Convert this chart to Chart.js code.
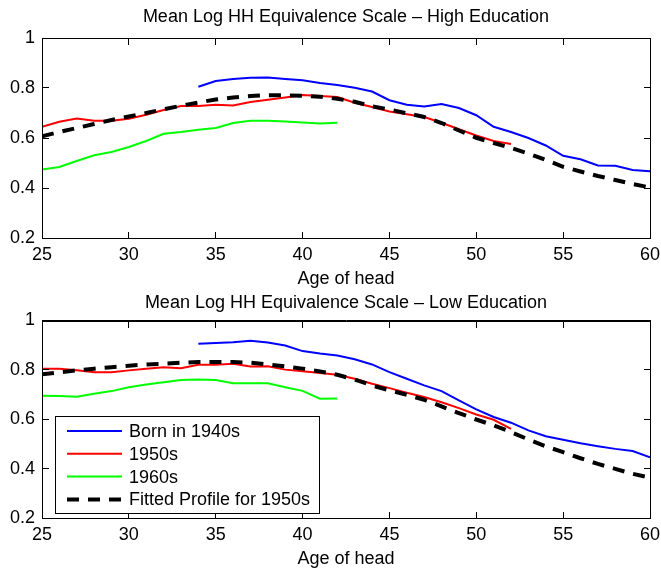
<!DOCTYPE html>
<html>
<head>
<meta charset="utf-8">
<script src="https://cdn.jsdelivr.net/npm/chart.js@4"></script>
<style>
  body { margin: 0; background: #fff; }
  #wrap { position: relative; width: 661px; height: 570px; }
  canvas { position: absolute; left: 0; }
</style>
</head>
<body>
<div id="wrap">
  <canvas id="highChart" width="661" height="290" style="top:0"></canvas>
  <canvas id="lowChart" width="661" height="285" style="top:285px"></canvas>
</div>
<script>
const ages = [25, 26, 27, 28, 29, 30, 31, 32, 33, 34, 35, 36, 37, 38, 39, 40, 41, 42,
              43, 44, 45, 46, 47, 48, 49, 50, 51, 52, 53, 54, 55, 56, 57, 58, 59, 60];
const xTicks = [25, 30, 35, 40, 45, 50, 55, 60];
const yTicks = [0.2, 0.4, 0.6, 0.8, 1];
const seriesNames = ['Born in 1940s', '1950s', '1960s', 'Fitted Profile for 1950s'];

// High education (1940s from age 34, 1950s to 52, 1960s to 42)
const highBorn40s = [0.805, 0.828, 0.836, 0.841, 0.842, 0.836, 0.831, 0.820, 0.812, 0.801, 0.786, 0.751, 0.733, 0.726,
                     0.736, 0.720, 0.691, 0.645, 0.624, 0.600, 0.570, 0.529, 0.515, 0.490, 0.489, 0.472, 0.467];
const highBorn50s = [0.645, 0.665, 0.678, 0.669, 0.669, 0.677, 0.693, 0.712, 0.728, 0.728, 0.733, 0.730, 0.744, 0.753,
                     0.762, 0.772, 0.768, 0.764, 0.741, 0.724, 0.706, 0.695, 0.684, 0.661, 0.635, 0.610, 0.588, 0.576];
const highBorn60s = [0.474, 0.484, 0.508, 0.531, 0.544, 0.564, 0.588, 0.617, 0.624, 0.633, 0.640, 0.660, 0.669, 0.669,
                     0.666, 0.662, 0.658, 0.661];
const highFitted = [0.607, 0.624, 0.640, 0.656, 0.672, 0.686, 0.700, 0.715, 0.729, 0.742, 0.754, 0.762, 0.768, 0.771,
                    0.771, 0.769, 0.765, 0.757, 0.745, 0.727, 0.714, 0.699, 0.684, 0.660, 0.630, 0.601, 0.580, 0.560,
                    0.538, 0.512, 0.485, 0.466, 0.448, 0.432, 0.416, 0.402];

// Low education
const lowBorn40s = [0.906, 0.909, 0.912, 0.918, 0.911, 0.899, 0.876, 0.866, 0.858, 0.843, 0.822, 0.791, 0.764, 0.737,
                    0.714, 0.676, 0.640, 0.609, 0.586, 0.555, 0.531, 0.517, 0.503, 0.491, 0.480, 0.471, 0.446];
const lowBorn50s = [0.805, 0.805, 0.798, 0.790, 0.790, 0.798, 0.805, 0.811, 0.807, 0.821, 0.821, 0.825, 0.814, 0.815,
                    0.801, 0.794, 0.787, 0.780, 0.764, 0.744, 0.726, 0.707, 0.690, 0.669, 0.645, 0.619, 0.598, 0.561];
const lowBorn60s = [0.695, 0.694, 0.691, 0.703, 0.714, 0.730, 0.741, 0.750, 0.759, 0.761, 0.759, 0.746, 0.746, 0.746,
                    0.730, 0.715, 0.683, 0.684];
const lowFitted = [0.782, 0.790, 0.798, 0.805, 0.811, 0.817, 0.822, 0.825, 0.829, 0.832, 0.832, 0.832, 0.829, 0.822,
                   0.814, 0.805, 0.794, 0.780, 0.761, 0.737, 0.717, 0.699, 0.679, 0.652, 0.625, 0.599, 0.575, 0.548,
                   0.518, 0.490, 0.467, 0.442, 0.419, 0.399, 0.379, 0.363];

const FONT = { family: '"Liberation Sans", Arial, Helvetica, sans-serif', size: 18, weight: 'normal' };

function points(startAge, values) {
    const i0 = ages.indexOf(startAge);
    return values.map((v, i) => ({ x: ages[i0 + i], y: v }));
}

// box round the plot with inward ticks (filled 1px rects), plus the boxed legend
const matlabBox = {
    id: 'matlabBox',
    afterDraw(chart, args, opts) {
        const ctx = chart.ctx;
        const a = chart.chartArea;
        const x = chart.scales.x, y = chart.scales.y;
        const L = Math.round(a.left), R = Math.round(a.right);
        const T = Math.round(a.top), B = Math.round(a.bottom);
        ctx.save();
        ctx.fillStyle = '#000';
        ctx.fillRect(L, T, R - L + 1, 1);
        ctx.fillRect(L, B, R - L + 1, 1);
        ctx.fillRect(L, T, 1, B - T + 1);
        ctx.fillRect(R, T, 1, B - T + 1);
        xTicks.forEach(v => {
            const px = Math.floor(x.getPixelForValue(v));
            ctx.fillRect(px, B - 6, 1, 6);
            ctx.fillRect(px, T + 1, 1, 6);
        });
        yTicks.forEach(v => {
            const py = Math.floor(y.getPixelForValue(v));
            ctx.fillRect(L + 1, py, 6, 1);
            ctx.fillRect(R - 6, py, 6, 1);
        });

        if (opts.legend) {
            const bx = Math.round(a.left + 13);
            const by = Math.round(a.bottom - 102);
            ctx.fillStyle = '#fff';
            ctx.fillRect(bx, by, 264, 97);
            ctx.strokeStyle = '#000';
            ctx.lineWidth = 1;
            ctx.strokeRect(bx + 0.5, by + 0.5, 264, 97);
            ctx.font = `${FONT.size}px ${FONT.family}`;
            ctx.textBaseline = 'middle';
            chart.data.datasets.forEach((ds, i) => {
                const cy = by + 15 + i * 22.8;
                ctx.beginPath();
                ctx.strokeStyle = ds.borderColor;
                ctx.lineWidth = ds.borderWidth;
                ctx.setLineDash(ds.borderDash || []);
                ctx.moveTo(bx + 12, cy);
                ctx.lineTo(bx + 67, cy);
                ctx.stroke();
                ctx.setLineDash([]);
                ctx.fillStyle = '#000';
                ctx.fillText(ds.label, bx + 74, cy + 1);
            });
        }
        ctx.restore();
    }
};

// inward tick marks: negative tick length, drawn only at the axis
const tickGrid = { display: true, drawOnChartArea: false, drawTicks: true, tickLength: -6, color: '#000', lineWidth: 1 };
const axisBorder = { display: true, color: '#000', width: 1 };

function makeChart(id, title, d, pad, showLegend) {
    new Chart(document.getElementById(id), {
        type: 'line',
        data: {
            datasets: [
                { label: seriesNames[0], data: points(34, d.b40), borderColor: '#0000ff', borderWidth: 2, order: 3 },
                { label: seriesNames[1], data: points(25, d.b50), borderColor: '#ff0000', borderWidth: 2, order: 2 },
                { label: seriesNames[2], data: points(25, d.b60), borderColor: '#00ff00', borderWidth: 2, order: 1 },
                { label: seriesNames[3], data: points(25, d.fit), borderColor: '#000000', borderWidth: 4,
                  borderDash: [12, 9], order: 0 },
            ],
        },
        options: {
            responsive: false,
            animation: false,
            layout: { padding: { left: 0, right: 11, top: 0, bottom: 0 } },
            elements: { point: { radius: 0 }, line: { tension: 0, fill: false } },
            plugins: {
                legend: { display: false },
                tooltip: { enabled: false },
                title: {
                    display: true, text: title, fullSize: false, color: '#000', font: FONT,
                    padding: { top: pad.top, bottom: pad.bottom },
                },
                matlabBox: { legend: showLegend },
            },
            scales: {
                x: {
                    type: 'linear', min: 25, max: 60,
                    grid: tickGrid, border: axisBorder,
                    ticks: { stepSize: 5, padding: 12, color: '#000', font: FONT, maxRotation: 0 },
                    title: { display: true, text: 'Age of head', color: '#000', font: FONT, padding: { top: 0, bottom: 0 } },
                    afterFit: s => { s.height = 52; s.paddingLeft = 0; s.paddingRight = 0; },
                },
                xTop: {
                    type: 'linear', position: 'top', min: 25, max: 60,
                    grid: tickGrid, border: axisBorder,
                    ticks: { stepSize: 5, display: false },
                    afterFit: s => { s.height = 0; },
                },
                y: {
                    min: 0.2, max: 1,
                    grid: tickGrid, border: axisBorder,
                    ticks: { stepSize: 0.2, padding: 13, color: '#000', font: FONT, callback: v => String(+v.toFixed(1)) },
                    afterFit: s => { s.width = 42; },
                },
                yRight: {
                    position: 'right', min: 0.2, max: 1,
                    grid: tickGrid, border: axisBorder,
                    ticks: { stepSize: 0.2, display: false },
                    afterFit: s => { s.width = 0; },
                },
            },
        },
        plugins: [matlabBox],
    });
}

makeChart('highChart', 'Mean Log HH Equivalence Scale \u2013 High Education',
    { b40: highBorn40s, b50: highBorn50s, b60: highBorn60s, fit: highFitted }, { top: 6, bottom: 10.4 }, false);
makeChart('lowChart', 'Mean Log HH Equivalence Scale \u2013 Low Education',
    { b40: lowBorn40s, b50: lowBorn50s, b60: lowBorn60s, fit: lowFitted }, { top: 7.2, bottom: 6.7 }, true);
</script>
</body>
</html>
